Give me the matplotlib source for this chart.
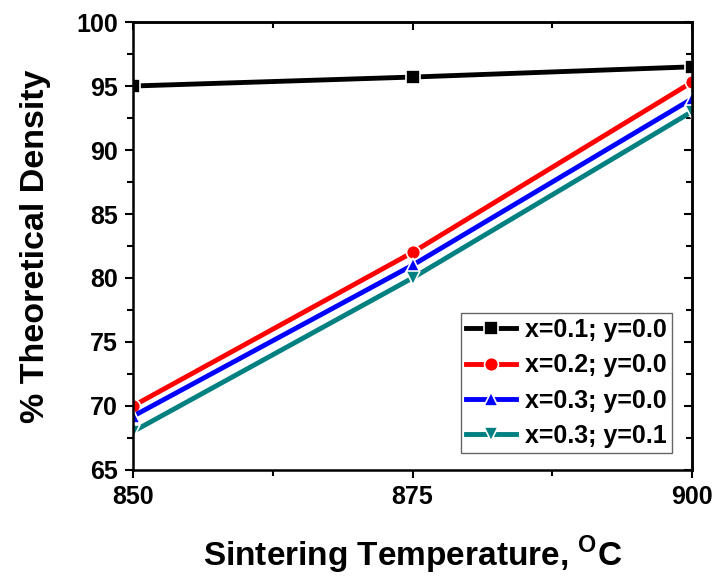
import numpy as np
import matplotlib
matplotlib.use("Agg")
from matplotlib import pyplot as plt

plt.rcParams['font.family'] = ['Liberation Sans', 'DejaVu Sans']
plt.rcParams['font.weight'] = 'bold'
plt.rcParams['mathtext.fontset'] = 'custom'
plt.rcParams['mathtext.rm'] = 'Liberation Sans:bold'
plt.rcParams['mathtext.bf'] = 'Liberation Sans:bold'

temps = [850, 875, 900]
labels = ["x=0.1; y=0.0", "x=0.2; y=0.0", "x=0.3; y=0.0", "x=0.3; y=0.1"]
dens_01_00 = [95.0, 95.7, 96.5]
dens_02_00 = [70.0, 82.0, 95.3]
dens_03_00 = [69.2, 81.0, 94.0]
dens_03_01 = [68.0, 80.0, 93.0]

series = [dens_01_00, dens_02_00, dens_03_00, dens_03_01]
colors = ["black", "#ff0000", "#0000ff", "#008080"]
markers = ["s", "o", "^", "v"]

fig = plt.figure(figsize=(7.16, 5.78), dpi=100)
ax = fig.add_axes([0.1858, 0.1869, 0.7807, 0.775])

for vals, c, m, lab in zip(series, colors, markers, labels):
    ax.plot(temps, vals, color=c, marker=m, markersize=10, linewidth=3.5,
            markeredgecolor='white', markeredgewidth=1.2, label=lab)

ax.set_xlim(850, 900)
ax.set_ylim(65, 100)
ax.set_xticks([850, 875, 900])
ax.set_xticks([862.5, 887.5], minor=True)
ax.set_yticks(np.arange(65, 101, 5))
ax.set_yticks(np.arange(67.5, 100, 5), minor=True)

for s in ax.spines.values():
    s.set_linewidth(1.8)

ax.tick_params(which='both', direction='out', width=1.5, labelsize=18, pad=5)
ax.tick_params(which='major', length=6)
ax.tick_params(which='minor', length=4)

# mirrored ticks pointing inward on top and right
top = ax.secondary_xaxis('top')
top.set_xticks([850, 875, 900])
top.set_xticks([862.5, 887.5], minor=True)
top.tick_params(which='both', direction='in', width=1.5, labeltop=False)
top.tick_params(which='major', length=6)
top.tick_params(which='minor', length=4)
top.spines['top'].set_linewidth(1.8)

right = ax.secondary_yaxis('right')
right.set_yticks(np.arange(65, 101, 5))
right.set_yticks(np.arange(67.5, 100, 5), minor=True)
right.tick_params(which='both', direction='in', width=1.5, labelright=False)
right.tick_params(which='major', length=6)
right.tick_params(which='minor', length=4)
right.spines['right'].set_linewidth(1.8)

ax.set_xlabel(r"Sintering Temperature, $^{\mathrm{O}}$C", fontsize=24, fontweight='bold', labelpad=18)
ax.set_ylabel("% Theoretical Density", fontsize=24.5, fontweight='bold', labelpad=18)

leg = ax.legend(loc='lower right', bbox_to_anchor=(0.964, 0.038), fontsize=18,
                frameon=True, fancybox=False, edgecolor='#404040', handlelength=2.0,
                borderpad=0.2, labelspacing=0.45, handletextpad=0.35, borderaxespad=0)
leg.get_frame().set_linewidth(1.0)

plt.savefig("out.png", dpi=100)
